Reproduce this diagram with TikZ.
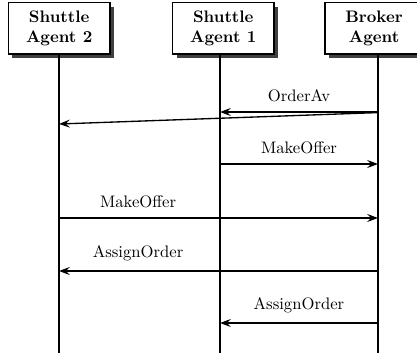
\documentclass[tikz,border=0pt]{standalone}
\usetikzlibrary{arrows.meta,shadows}
\tikzset{
  agent/.style={draw, line width=1pt, fill=white, font=\bfseries, align=center,
    minimum height=30.8pt, inner sep=0pt,
    drop shadow={shadow xshift=2.4pt, shadow yshift=-2.4pt, fill=black!75, opacity=1}},
  lifeline/.style={line width=0.7pt},
  msg/.style={line width=0.8pt, -{Stealth[length=6.5pt,width=4.8pt,inset=2.4pt]}},
  lbl/.style={above=2.6pt, inner sep=0.333em}
}
\begin{document}
\begin{tikzpicture}[x=0.6pt,y=-0.6pt]
\useasboundingbox (0,0) rectangle (417,353);
\clip (0,0) rectangle (417,353);
% lifeline x positions and bottom
\coordinate (L1) at (59,0);
\coordinate (L2) at (220,0);
\coordinate (L3) at (378,0);
\coordinate (bot) at (0,353);
% agent boxes
\node[agent, minimum width=61pt] (sa2) at (59.2,28.3) {Shuttle\\Agent 2};
\node[agent, minimum width=60.8pt] (sa1) at (223.3,28.3) {Shuttle\\Agent 1};
\node[agent, minimum width=58.8pt] (ba) at (374,28.3) {Broker\\Agent};
% lifelines
\draw[lifeline] (L1 |- sa2.south) -- (L1 |- bot);
\draw[lifeline] (L2 |- sa1.south) -- (L2 |- bot);
\draw[lifeline] (L3 |- ba.south) -- (L3 |- bot);
% message rows
\coordinate (r1) at (0,112);
\coordinate (r1a) at (0,112.6);
\coordinate (r1b) at (0,124);
\coordinate (r2) at (0,164);
\coordinate (r3) at (0,218);
\coordinate (r4) at (0,271);
\coordinate (r5) at (0,323);
% messages
\draw[msg] (L3 |- r1) -- node[lbl] (t1) {OrderAv} (L2 |- r1);
\draw[msg] (L3 |- r1a) -- (L1 |- r1b);
\draw[msg] (L2 |- r2) -- node[lbl] (t2) {MakeOffer} (L3 |- r2);
\draw[msg] (L1 |- r3) -- node[lbl, pos=0.248] (t3) {MakeOffer} (L3 |- r3);
\draw[msg] (L3 |- r4) -- node[lbl, pos=0.752] (t4) {AssignOrder} (L1 |- r4);
\draw[msg] (L3 |- r5) -- node[lbl] (t5) {AssignOrder} (L2 |- r5);
\end{tikzpicture}
\end{document}
